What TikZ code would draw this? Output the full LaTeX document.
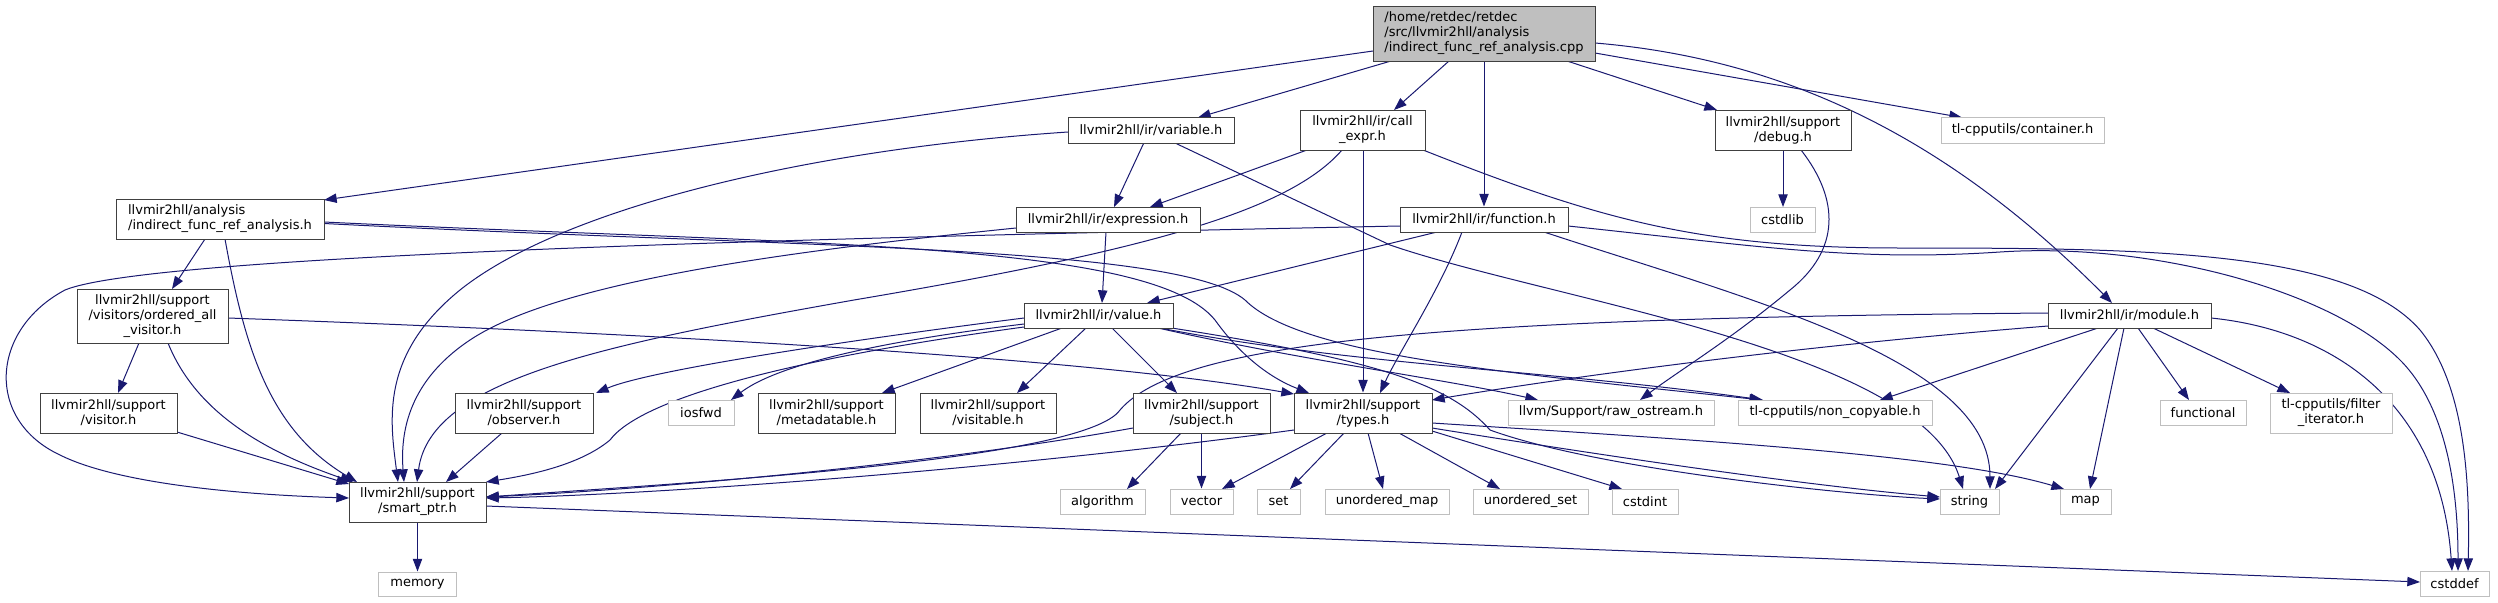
\documentclass[tikz,border=0pt]{standalone}
\usepackage{fontspec}
\setmainfont{DejaVu Sans}
\usetikzlibrary{arrows.meta,calc}
\definecolor{edgec}{HTML}{191970}
\definecolor{rootfill}{HTML}{BFBFBF}
\definecolor{extborder}{HTML}{BFBFBF}
\definecolor{docborder}{HTML}{404040}
\newcommand\nodefont{\fontsize{9.75}{11.25}\selectfont}
\pgfdeclarelayer{bg}
\pgfsetlayers{bg,main}
\tikzset{
  sz/.style 2 args={minimum width=#1*0.75pt, minimum height=#2*0.75pt},
  doc/.style={draw=docborder, fill=white, line width=0.75pt, inner sep=0pt, align=center, font=\nodefont},
  ext/.style={draw=extborder, fill=white, line width=0.75pt, inner sep=0pt, align=center, font=\nodefont},
  edg/.style={draw=edgec, line width=0.75pt, -{Triangle[length=9.5pt,width=7pt]}, fill=none}
}
\begin{document}
\begin{tikzpicture}[x=0.75pt,y=-0.75pt]
\useasboundingbox (0,0) rectangle (2498,603);
% nodes
\node[doc, sz={222}{55}, fill=rootfill, align=left] (root) at (1484,33.5) {/home/retdec/retdec\\/src/llvmir2hll/analysis\\/indirect\_func\_ref\_analysis.cpp};
\node[doc, sz={166}{26}] (variable) at (1151,130) {llvmir2hll/ir/variable.h};
\node[doc, sz={125}{40}] (callexpr) at (1362.5,130) {llvmir2hll/ir/call\\\_expr.h};
\node[doc, sz={136}{40}] (debug) at (1783,130) {llvmir2hll/support\\/debug.h};
\node[ext, sz={163}{26}] (container) at (2022.5,130) {tl-cpputils/container.h};
\node[doc, sz={208}{40}, align=left] (indirect) at (220,219) {llvmir2hll/analysis\\/indirect\_func\_ref\_analysis.h};
\node[doc, sz={184}{25}] (expression) at (1108,219.5) {llvmir2hll/ir/expression.h};
\node[doc, sz={168}{25}] (function) at (1484,219.5) {llvmir2hll/ir/function.h};
\node[ext, sz={65}{25}] (cstdlib) at (1782.5,219.5) {cstdlib};
\node[doc, sz={151}{54}] (ordered) at (152.5,316) {llvmir2hll/support\\/visitors/ordered\_all\\\_visitor.h};
\node[doc, sz={149}{25}] (value) at (1098.5,315.5) {llvmir2hll/ir/value.h};
\node[doc, sz={163}{25}] (module) at (2129.5,315.5) {llvmir2hll/ir/module.h};
\node[doc, sz={137}{40}] (visitor) at (108.5,413) {llvmir2hll/support\\/visitor.h};
\node[doc, sz={138}{40}] (observer) at (524,413) {llvmir2hll/support\\/observer.h};
\node[ext, sz={66}{25}] (iosfwd) at (701,412.5) {iosfwd};
\node[doc, sz={137}{40}] (metadatable) at (826.5,413) {llvmir2hll/support\\/metadatable.h};
\node[doc, sz={136}{40}] (visitable) at (988,413) {llvmir2hll/support\\/visitable.h};
\node[doc, sz={137}{40}] (subject) at (1201.5,413) {llvmir2hll/support\\/subject.h};
\node[doc, sz={138}{40}] (types) at (1363,413) {llvmir2hll/support\\/types.h};
\node[ext, sz={206}{25}] (raw) at (1611,412.5) {llvm/Support/raw\_ostream.h};
\node[ext, sz={194}{25}] (noncopy) at (1835,412.5) {tl-cpputils/non\_copyable.h};
\node[ext, sz={86}{25}] (functional) at (2203,412.5) {functional};
\node[ext, sz={122}{40}] (filter) at (2331,413) {tl-cpputils/filter\\\_iterator.h};
\node[doc, sz={137}{40}] (smart) at (417.5,502) {llvmir2hll/support\\/smart\_ptr.h};
\node[ext, sz={85}{25}] (algorithm) at (1102.5,501.5) {algorithm};
\node[ext, sz={63}{25}] (vector) at (1201.5,501.5) {vector};
\node[ext, sz={43}{25}] (set) at (1278.5,501.5) {set};
\node[ext, sz={124}{25}] (umap) at (1387,501.5) {unordered\_map};
\node[ext, sz={115}{25}] (uset) at (1530.5,501.5) {unordered\_set};
\node[ext, sz={66}{25}] (cstdint) at (1645,501.5) {cstdint};
\node[ext, sz={59}{25}] (string) at (1969.5,501.5) {string};
\node[ext, sz={51}{25}] (map) at (2085.5,501.5) {map};
\node[ext, sz={78}{24}] (memory) at (417.5,584) {memory};
\node[ext, sz={69}{25}] (cstddef) at (2454.5,583.5) {cstddef};
% edges
\begin{pgfonlayer}{bg}
\draw[edg] ($(root)+(-111,17.5)$) -- ($(indirect)+(104,-19)$);
\draw[edg] ($(root)+(-93,27.5)$) -- ($(variable)+(47,-12.5)$);
\draw[edg] ($(root)+(-35,27.5)$) -- ($(callexpr)+(31.5,-20)$);
\draw[edg] (root.south) -- (function.north);
\draw[edg] ($(root)+(83,27.5)$) -- ($(debug)+(-66,-20)$);
\draw[edg] ($(root)+(111,19.5)$) -- ($(container)+(-60.5,-12.5)$);
\draw[edg] ($(root)+(111,9.5)$) .. controls (1800,60) and (1960,150) .. ($(module)+(-17.5,-12.5)$);
\draw[edg] ($(indirect)+(-15,20)$) -- ($(ordered)+(19.5,-27)$);
\draw[edg] ($(indirect)+(5,20)$) .. controls (245,350) and (270,430) .. ($(smart)+(-60.5,-20)$);
\draw[edg] ($(indirect)+(104,3)$) .. controls (800,245) and (1150,240) .. (1215,320) .. controls (1240,355) and (1270,378) .. ($(types)+(-54,-20)$);
\draw[edg] ($(indirect)+(104,4.5)$) .. controls (800,248) and (1180,245) .. (1245,300) .. controls (1300,355) and (1500,372) .. ($(noncopy)+(-73,-12.5)$);
\draw[edg] ($(ordered)+(-13.5,27)$) -- ($(visitor)+(9.5,-20)$);
\draw[edg] ($(ordered)+(15.5,27)$) .. controls (195,410) and (260,450) .. ($(smart)+(-64.5,-20)$);
\draw[edg] ($(ordered)+(75.5,2)$) .. controls (700,335) and (1100,360) .. ($(types)+(-69,-19)$);
\draw[edg] ($(visitor)+(68.5,19)$) -- ($(smart)+(-68.5,-18)$);
\draw[edg] ($(variable)+(-7,12.5)$) -- ($(expression)+(6,-12.5)$);
\draw[edg] ($(variable)+(-83,2)$) .. controls (800,150) and (560,210) .. (460,290) .. controls (380,355) and (390,420) .. ($(smart)+(-19.5,-20)$);
\draw[edg] ($(variable)+(23,12.5)$) -- (1390,245) .. controls (1550,300) and (1920,350) .. ($(string)+(-6.5,-12.5)$);
\draw[edg] ($(callexpr)+(-55.5,20)$) -- ($(expression)+(42,-12.5)$);
\draw[edg] ($(callexpr)+(-20.5,20)$) .. controls (1290,210) and (1150,250) .. (854,300) .. controls (600,345) and (430,380) .. ($(smart)+(-0.5,-20)$);
\draw[edg] ($(callexpr)+(0.5,20)$) -- (types.north);
\draw[edg] ($(callexpr)+(60.5,20)$) .. controls (1600,220) and (1700,248) .. (1900,248) .. controls (2150,248) and (2350,250) .. (2420,330) .. controls (2465,385) and (2470,480) .. ($(cstddef)+(13.5,-12.5)$);
\draw[edg] ($(debug)+(0,20)$) -- ($(cstdlib)+(0.5,-12.5)$);
\draw[edg] ($(debug)+(18,20)$) .. controls (1840,200) and (1840,250) .. (1790,290) .. controls (1730,340) and (1680,370) .. ($(raw)+(29,-12.5)$);
\draw[edg] ($(expression)+(-2,12.5)$) -- ($(value)+(3.5,-12.5)$);
\draw[edg] ($(expression)+(-92,8.5)$) .. controls (800,250) and (560,280) .. (470,340) .. controls (410,380) and (400,430) .. ($(smart)+(-13.5,-20)$);
\draw[edg] ($(function)+(-47,12.5)$) -- ($(value)+(48.5,-12.5)$);
\draw[edg] ($(function)+(-84,6.5)$) .. controls (800,238) and (150,255) .. (65,290) .. controls (-10,330) and (-15,420) .. (60,455) .. controls (120,485) and (250,495) .. ($(smart)+(-68.5,-4)$);
\draw[edg] ($(function)+(-22,12.5)$) .. controls (1440,290) and (1400,350) .. ($(types)+(17,-20)$);
\draw[edg] ($(function)+(60,12.5)$) .. controls (1750,300) and (1990,360) .. ($(string)+(20.5,-12.5)$);
\draw[edg] ($(function)+(84,6.5)$) .. controls (1750,245) and (1850,262) .. (2000,252) .. controls (2150,242) and (2330,290) .. (2400,360) .. controls (2450,410) and (2458,500) .. ($(cstddef)+(3.5,-12.5)$);
\draw[edg] ($(value)+(-74.5,2.5)$) .. controls (850,340) and (650,370) .. ($(observer)+(72,-20)$);
\draw[edg] ($(value)+(-74.5,8.5)$) .. controls (850,345) and (770,370) .. ($(iosfwd)+(30,-12.5)$);
\draw[edg] ($(value)+(-74.5,11.5)$) .. controls (780,360) and (640,400) .. (610,440) .. controls (580,465) and (530,475) .. ($(smart)+(68.5,-20)$);
\draw[edg] ($(value)+(-36.5,12.5)$) -- ($(metadatable)+(55.5,-20)$);
\draw[edg] ($(value)+(-12.5,12.5)$) -- ($(visitable)+(29,-20)$);
\draw[edg] ($(value)+(13.5,12.5)$) -- ($(subject)+(-24.5,-20)$);
\draw[edg] ($(value)+(59.5,12.5)$) .. controls (1300,360) and (1450,380) .. ($(raw)+(-73,-12.5)$);
\draw[edg] ($(value)+(61.5,12.5)$) .. controls (1350,365) and (1550,370) .. ($(noncopy)+(-72,-12.5)$);
\draw[edg] ($(value)+(66.5,11.5)$) .. controls (1380,360) and (1450,385) .. (1490,430) .. controls (1600,470) and (1850,495) .. ($(string)+(-29.5,-2.5)$);
\draw[edg] ($(module)+(-81.5,-2.5)$) .. controls (1450,318) and (1180,340) .. (1120,410) .. controls (1085,460) and (700,482) .. ($(smart)+(68.5,-5)$);
\draw[edg] ($(module)+(-81.5,10.5)$) .. controls (1750,350) and (1520,385) .. ($(types)+(69,-13)$);
\draw[edg] ($(module)+(-31.5,12.5)$) -- ($(noncopy)+(45,-12.5)$);
\draw[edg] ($(module)+(-11.5,12.5)$) -- ($(string)+(25.5,-12.5)$);
\draw[edg] ($(module)+(-5.5,12.5)$) -- ($(map)+(4.5,-12.5)$);
\draw[edg] ($(module)+(8.5,12.5)$) -- ($(functional)+(-14,-12.5)$);
\draw[edg] ($(module)+(23.5,12.5)$) -- ($(filter)+(-41,-20)$);
\draw[edg] ($(module)+(81.5,2.5)$) .. controls (2330,330) and (2440,400) .. ($(cstddef)+(-2.5,-12.5)$);
\draw[edg] ($(observer)+(-22,20)$) -- ($(smart)+(28.5,-20)$);
\draw[edg] ($(subject)+(-20.5,20)$) -- ($(algorithm)+(24.5,-12.5)$);
\draw[edg] (subject.south) -- (vector.north);
\draw[edg] ($(subject)+(-68.5,15)$) .. controls (900,470) and (600,492) .. ($(smart)+(68.5,-5)$);
\draw[edg] ($(types)+(-69,17)$) .. controls (1000,470) and (650,495) .. ($(smart)+(68.5,-4)$);
\draw[edg] ($(types)+(-36,20)$) -- ($(vector)+(20.5,-12.5)$);
\draw[edg] ($(types)+(-19,20)$) -- ($(set)+(11.5,-12.5)$);
\draw[edg] ($(types)+(5,20)$) -- ($(umap)+(-4,-12.5)$);
\draw[edg] ($(types)+(36,20)$) -- ($(uset)+(-30.5,-12.5)$);
\draw[edg] ($(types)+(69,18)$) -- ($(cstdint)+(-23,-12.5)$);
\draw[edg] ($(types)+(69,15)$) .. controls (1600,455) and (1800,485) .. ($(string)+(-29.5,-4.5)$);
\draw[edg] ($(types)+(69,10)$) .. controls (1700,440) and (1950,455) .. ($(map)+(-21.5,-12.5)$);
\draw[edg] (smart.south) -- (memory.north);
\draw[edg] ($(smart)+(68.5,4)$) -- ($(cstddef)+(-34.5,-1.5)$);
\end{pgfonlayer}
\end{tikzpicture}
\end{document}
